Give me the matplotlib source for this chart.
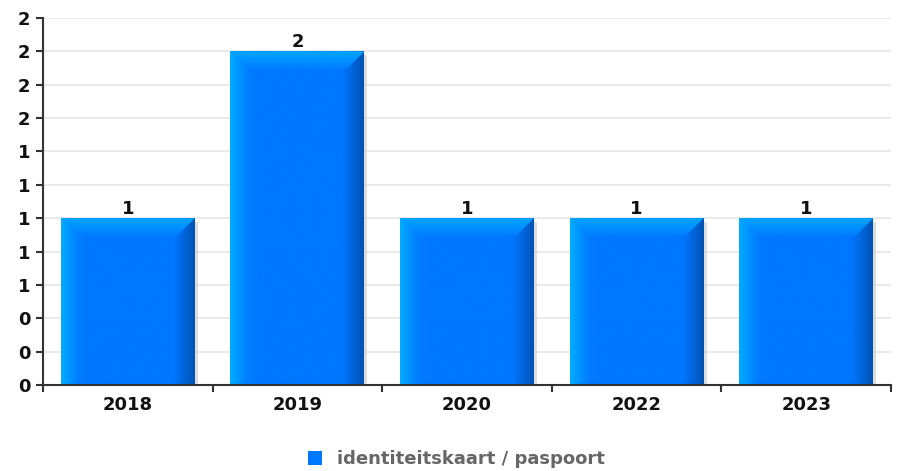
"""
Bar chart: identiteitskaart / paspoort per year, with bevelled gradient bars.
"""

import numpy as np
import matplotlib
matplotlib.use("Agg")
import matplotlib.pyplot as plt
from matplotlib.colors import LinearSegmentedColormap
from matplotlib.patches import Patch, Polygon, Rectangle


# ============================================================
# DATA
# ============================================================
years = ["2018", "2019", "2020", "2022", "2023"]
counts = [1, 2, 1, 1, 1]
series_name = "identiteitskaart / paspoort"
y_max = 2.2
y_step = 0.2
# ============================================================

bar_width = 0.79
base_color = "#0077ff"

side_cmap = LinearSegmentedColormap.from_list(
    "side", [(0.0, "#00acff"), (0.13, "#007eff"), (0.2, "#0077ff"),
             (0.84, "#0077ff"), (0.9, "#006ae6"), (1.0, "#0053b2")])
top_cmap = LinearSegmentedColormap.from_list(
    "top", [(0.0, "#007cff"), (1.0, "#00a6ff")])


def draw_bar(ax, xc, h, px_x, px_y):
    x0, x1 = xc - bar_width / 2, xc + bar_width / 2
    dx, dy = 18 * px_x, 18 * px_y

    # soft shadow on the right
    ax.add_patch(Rectangle((x1, 0), 3 * px_x, h - 4 * px_y,
                           facecolor="#c8c8c8", edgecolor="none", alpha=0.6, zorder=2))

    body = Rectangle((x0, 0), bar_width, h, facecolor=base_color,
                     edgecolor="none", zorder=3)
    ax.add_patch(body)

    grad = np.linspace(0, 1, 256).reshape(1, -1)
    im = ax.imshow(grad, cmap=side_cmap, extent=(x0, x1, 0, h),
                   aspect="auto", zorder=3.1, interpolation="bicubic")
    im.set_clip_path(body)

    top = Polygon([(x0, h), (x1, h), (x1 - dx, h - dy), (x0 + dx, h - dy)],
                  closed=True, facecolor="none", edgecolor="none", zorder=3.2)
    ax.add_patch(top)
    vgrad = np.linspace(0, 1, 64).reshape(-1, 1)
    im2 = ax.imshow(vgrad, cmap=top_cmap, extent=(x0, x1, h - dy, h),
                    origin="lower", aspect="auto", zorder=3.2)
    im2.set_clip_path(top)


def main():
    fig = plt.figure(figsize=(9.01, 4.71), dpi=100)
    ax = fig.add_axes([43 / 901, 86 / 471, 848 / 901, (385 - 18) / 471])

    x = np.arange(len(years))
    ax.set_xlim(-0.5, len(years) - 0.5)
    ax.set_ylim(0, y_max)

    # size of one pixel in data units
    px_x = len(years) / 848
    px_y = y_max / 367

    for xc, h in zip(x, counts):
        draw_bar(ax, xc, h, px_x, px_y)
        ax.text(xc, h + 0.5 * px_y, str(h), ha="center", va="bottom",
                fontsize=13, fontweight="bold", color="#111111", zorder=5)

    yticks = np.arange(0, y_max + 1e-9, y_step)
    ax.set_yticks(yticks)
    ax.set_yticklabels([f"{v:.0f}" for v in yticks])
    ax.yaxis.grid(True, color="#e6e6e6", linewidth=1.2)
    ax.set_axisbelow(True)

    ax.set_xticks(x)
    ax.set_xticklabels(years)
    ax.set_xticks(np.arange(-0.5, len(years)), minor=True)
    ax.tick_params(axis="x", which="major", length=0, pad=8)
    ax.tick_params(axis="x", which="minor", length=5, width=1.5, color="#333333")
    ax.tick_params(axis="y", length=5, width=1.5, color="#333333", pad=4)

    for lab in ax.get_xticklabels() + ax.get_yticklabels():
        lab.set_fontsize(13)
        lab.set_fontweight("bold")
        lab.set_color("#111111")

    for side in ["top", "right"]:
        ax.spines[side].set_visible(False)
    for side in ["left", "bottom"]:
        ax.spines[side].set_color("#333333")
        ax.spines[side].set_linewidth(1.5)
        ax.spines[side].set_zorder(4)

    fig.legend(handles=[Patch(facecolor=base_color, edgecolor="none")],
               labels=[series_name], loc="center",
               bbox_to_anchor=(456 / 901, 1 - 459 / 471), frameon=False,
               handlelength=0.8, handleheight=0.8, handletextpad=0.8,
               prop={"size": 13, "weight": "bold"}, labelcolor="#666666")

    fig.savefig("out.png", dpi=100)


if __name__ == "__main__":
    main()
